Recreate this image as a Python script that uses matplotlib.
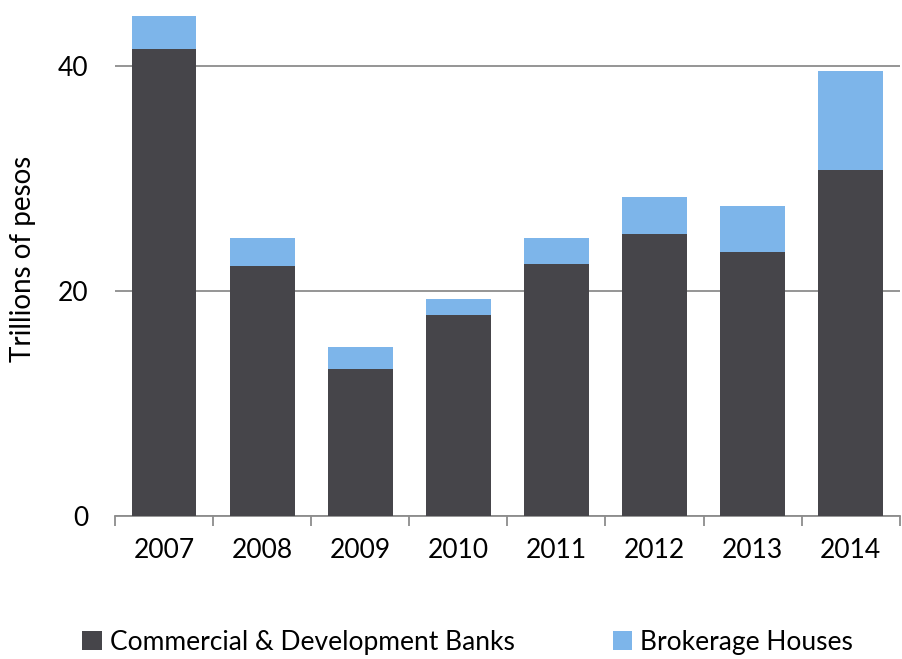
import matplotlib.pyplot as plt
import numpy as np

# Values (trillions of pesos)
years = ['2007', '2008', '2009', '2010', '2011', '2012', '2013', '2014']
banks = [41.5, 22.2, 13.1, 17.9, 22.4, 25.1, 23.5, 30.8]
brokerage = [3.0, 2.5, 1.9, 1.4, 2.3, 3.3, 4.1, 8.8]

plt.rcParams['font.family'] = ['Lato', 'DejaVu Sans']

fig = plt.figure(figsize=(9.02, 6.59), dpi=100)
ax = fig.add_axes([0.1275, 0.217, 0.87, 0.7815])

x = np.arange(len(years))
ax.bar(x, banks, width=0.66, color='#46454a', zorder=3, label='Commercial & Development Banks')
ax.bar(x, brokerage, width=0.66, bottom=banks, color='#7db5ea', zorder=3, label='Brokerage Houses')

ax.set_xlim(-0.5, len(years) - 0.5)
ax.set_ylim(0, 45.8)
ax.set_yticks([0, 20, 40])
ax.tick_params(axis='y', length=0, labelsize=19, pad=19)
ax.yaxis.grid(True, color='#8c8c8c', linewidth=1.3, zorder=0)

# category labels centred, ticks on boundaries
ax.set_xticks(x)
ax.set_xticklabels(years)
ax.tick_params(axis='x', which='major', length=0, labelsize=19, pad=16)
ax.set_xticks(np.arange(-0.5, len(years)), minor=True)
ax.tick_params(axis='x', which='minor', length=7, width=1.3, color='#8c8c8c', direction='out')

for s in ['top', 'right', 'left']:
    ax.spines[s].set_visible(False)
ax.spines['bottom'].set_color('#8c8c8c')
ax.spines['bottom'].set_linewidth(1.3)

ax.set_ylabel('Trillions of pesos', fontsize=20, labelpad=16)

fig.legend(loc='lower left', bbox_to_anchor=(0.065, -0.03), ncol=2, frameon=False,
           fontsize=19, handlelength=0.75, handleheight=0.75, handletextpad=0.3,
           columnspacing=3.7)

fig.savefig('out.png', dpi=100)
